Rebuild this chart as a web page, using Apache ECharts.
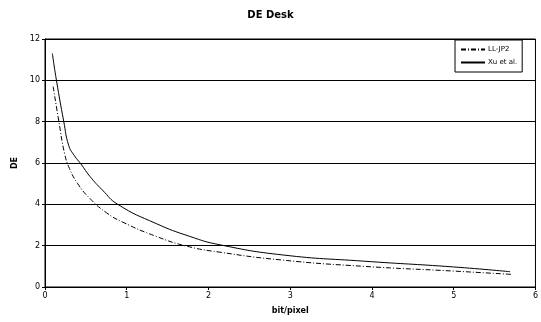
<!DOCTYPE html>
<html>
<head>
<meta charset="utf-8">
<script src="https://cdn.jsdelivr.net/npm/echarts@6/dist/echarts.min.js"></script>
<style>
  html, body { margin: 0; padding: 0; background: #fff; }
  #chart { width: 541px; height: 322px; }
</style>
</head>
<body>
<div id="chart"></div>
<script>
// values
const llX = [0.1, 0.17, 0.24, 0.3, 0.4, 0.55, 0.75, 0.95, 1.36, 1.73, 2.13, 2.91, 3.9, 5.0, 5.71];
const llY = [9.7, 8.0, 6.45, 5.73, 5.0, 4.28, 3.6, 3.14, 2.45, 1.98, 1.69, 1.3, 1.0, 0.77, 0.61];
const xuX = [0.09, 0.14, 0.23, 0.29, 0.36, 0.44, 0.55, 0.7, 0.89, 1.36, 1.77, 2.13, 2.91, 3.9, 5.0, 5.69];
const xuY = [11.3, 10.0, 8.0, 6.85, 6.35, 5.95, 5.35, 4.7, 4.0, 3.07, 2.45, 2.05, 1.55, 1.25, 0.97, 0.74];
const seriesNames = ['LL-JP2', 'Xu et al.'];

const font = 'DejaVu Sans';
const chart = echarts.init(document.getElementById('chart'));

const pairs = (xs, ys) => xs.map((x, i) => [x, ys[i]]);

chart.setOption({
  animation: false,
  backgroundColor: '#fff',
  textStyle: { fontFamily: font },
  title: {
    text: 'DE Desk',
    left: 'center',
    top: 5,
    textStyle: { fontFamily: font, fontSize: 10, fontWeight: 'bold', color: '#000' }
  },
  legend: {
    orient: 'vertical',
    left: 455,
    top: 40,
    padding: [6, 5, 6, 5],
    itemWidth: 24,
    itemHeight: 8,
    itemGap: 6,
    borderColor: '#000',
    borderWidth: 1,
    backgroundColor: '#fff',
    itemStyle: { opacity: 0 },
    data: seriesNames,
    textStyle: { fontFamily: font, fontSize: 7, color: '#000', padding: [0, 0, 0, -2] }
  },
  grid: {
    left: 45, right: 4, top: 39, bottom: 35,
    show: true, borderColor: '#000', borderWidth: 1
  },
  xAxis: {
    type: 'value',
    min: 0, max: 6, interval: 1,
    name: 'bit/pixel',
    nameLocation: 'middle',
    nameGap: 20,
    nameTextStyle: { fontFamily: font, fontSize: 8, fontWeight: 'bold', color: '#000' },
    axisLine: { lineStyle: { color: '#000', width: 1 } },
    axisTick: { show: true, length: 3, lineStyle: { color: '#000' } },
    axisLabel: { fontFamily: font, fontSize: 8, color: '#000', margin: 5 },
    splitLine: { show: false }
  },
  yAxis: {
    type: 'value',
    min: 0, max: 12, interval: 2,
    name: 'DE',
    nameLocation: 'middle',
    nameGap: 24,
    nameTextStyle: { fontFamily: font, fontSize: 8, fontWeight: 'bold', color: '#000' },
    axisLine: { show: true, lineStyle: { color: '#000', width: 1 } },
    axisTick: { show: true, length: 3, lineStyle: { color: '#000' } },
    axisLabel: { fontFamily: font, fontSize: 8, color: '#000', margin: 5 },
    splitLine: { show: true, lineStyle: { color: '#000', width: 1 } }
  },
  series: [
    {
      name: seriesNames[0],
      type: 'line',
      data: pairs(llX, llY),
      showSymbol: false,
      symbol: 'none',
      smooth: 0.5,
      lineStyle: { color: '#000', width: 1, type: [5, 2, 1, 2] },
      itemStyle: { color: '#000' }
    },
    {
      name: seriesNames[1],
      type: 'line',
      data: pairs(xuX, xuY),
      showSymbol: false,
      symbol: 'none',
      smooth: 0.5,
      lineStyle: { color: '#000', width: 1 },
      itemStyle: { color: '#000' }
    }
  ]
});
</script>
</body>
</html>
